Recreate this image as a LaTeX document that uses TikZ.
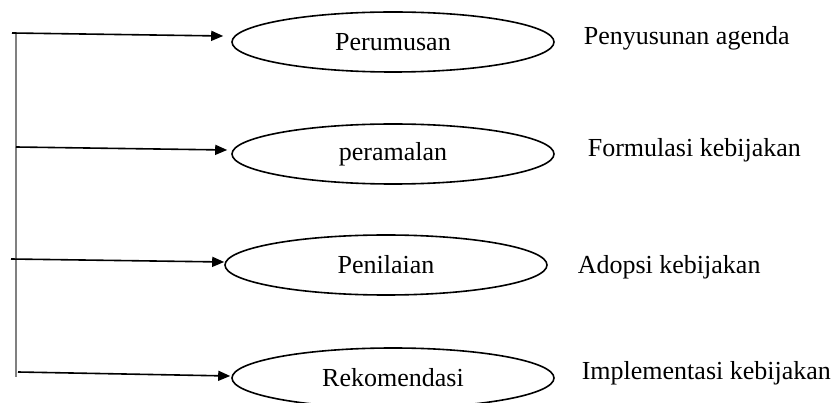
\documentclass[tikz,border=0pt]{standalone}
\usepackage{fontspec}
\setmainfont{Liberation Serif}
\usetikzlibrary{shapes.geometric,arrows.meta,calc}
\begin{document}
\begin{tikzpicture}[x=1pt,y=-1pt,line width=1.6pt,>={Triangle[length=12pt,width=10pt]},
  font=\fontsize{26}{30}\selectfont,
  tahap/.style={ellipse,draw,minimum width=322pt,minimum height=60pt,inner sep=0pt},
  ket/.style={anchor=base west,inner sep=0pt}]
  \useasboundingbox (0,0) rectangle (835,403);
  % garis tegak di kiri
  \coordinate (atas) at (16,32);
  \coordinate (bawah) at (16,377);
  \draw[gray,line width=1.4pt] (atas)--(bawah);
  \foreach \n/\x/\y/\t in {1/393/42/Perumusan,2/393/154/peramalan,3/386/265/Penilaian,4/393/378/Rekomendasi}{
     \node[tahap] (e\n) at (\x,\y) {\t};
  }
  % keterangan di kanan
  \foreach \n/\x/\y/\t in {1/583/45/Penyusunan agenda,2/587/157/Formulasi kebijakan,3/577/273/Adopsi kebijakan,4/581/379/Implementasi kebijakan}{
     \node[ket] (k\n) at (\x,\y) {\t};
  }
  % panah ke tiap elips
  \foreach \n/\x/\y/\dx/\dy in {1/12/33/-8/-6,2/16/147/-4/-4,3/11/259/0/-3,4/18/372/-1/-2}{
     \coordinate (p\n) at (\x,\y);
     \draw[->] (p\n)--($(e\n.west)+(\dx,\dy)$);
  }
\end{tikzpicture}
\end{document}
